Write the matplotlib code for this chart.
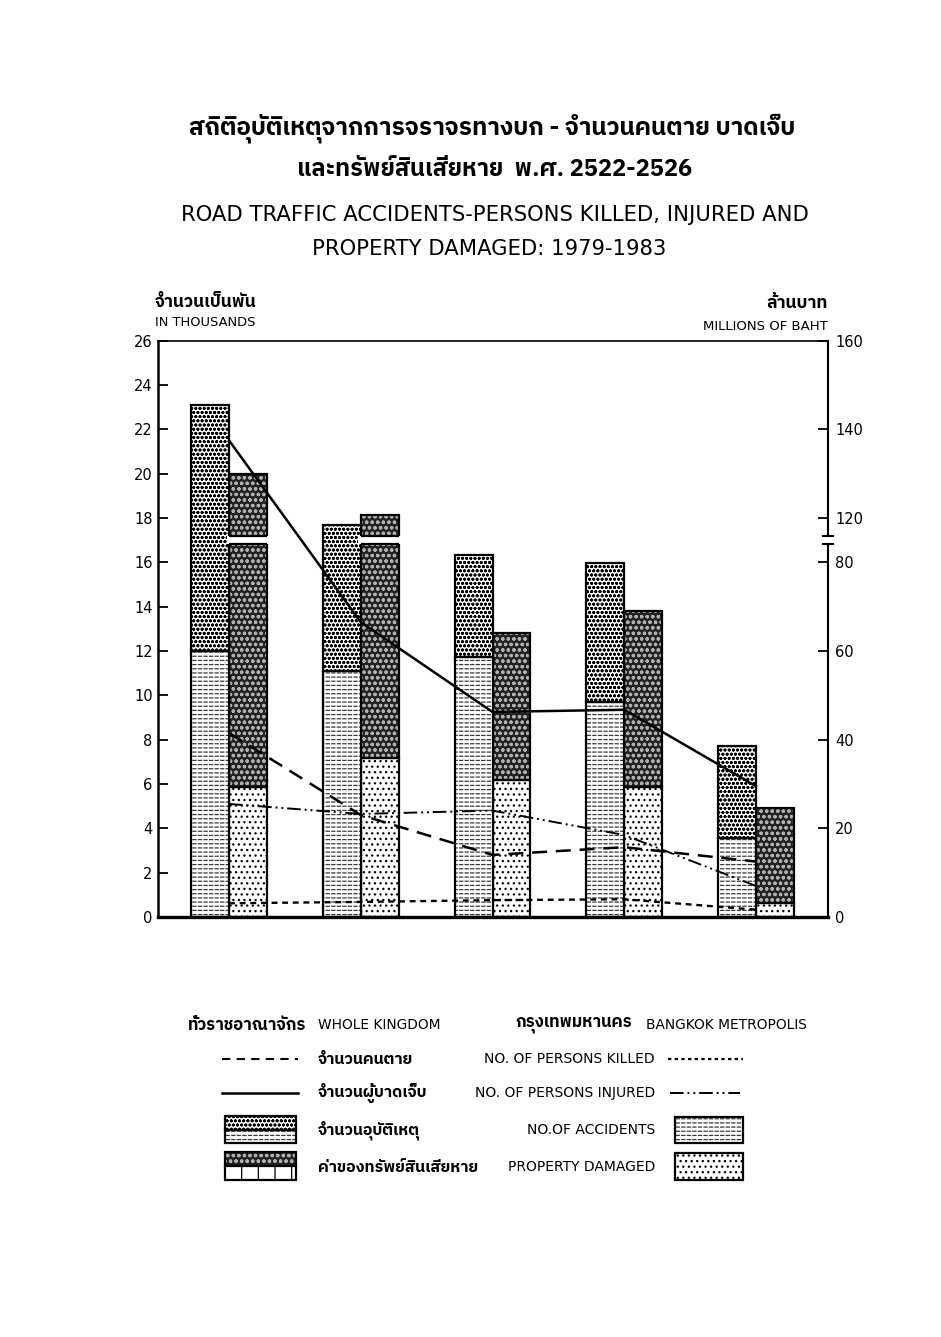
import numpy as np
import matplotlib
matplotlib.use("Agg")
import matplotlib.pyplot as plt
from matplotlib import font_manager, ft2font
from matplotlib.patches import Rectangle

# ---------------- data ----------------
years_be = ["2522", "2523", "2524", "2525", "2526"]
years_ce = ["1979", "1980", "1981", "1982", "1983"]
# thousands
acc_kingdom = [23.1, 17.7, 16.35, 15.95, 7.7]
acc_bangkok = [12.0, 11.1, 11.75, 9.7, 3.55]
killed_kingdom = [8.3, 4.6, 2.8, 3.15, 2.5]
injured_kingdom = [21.5, 13.3, 9.25, 9.35, 5.9]
killed_bangkok = [0.62, 0.68, 0.76, 0.8, 0.33]
injured_bangkok = [5.1, 4.65, 4.8, 3.7, 1.4]
# millions of baht
prop_kingdom = [130.0, 120.7, 64.0, 69.0, 24.5]
prop_bangkok = [29.4, 35.8, 30.9, 29.4, 3.1]

left_ticks = list(range(0, 27, 2))
right_ticks = [0, 20, 40, 60, 80, 120, 140, 160]

# ---------------- fonts ----------------
def find_thai_font():
    cands = []
    seen = set()
    for f in font_manager.fontManager.ttflist:
        if f.fname in seen:
            continue
        seen.add(f.fname)
        try:
            cm = ft2font.FT2Font(f.fname).get_charmap()
        except Exception:
            continue
        if 0x0E01 in cm and 0x0E33 in cm:
            cands.append(f.name)
    if not cands:
        return None
    cands.sort(key=lambda n: (0 if "Thai" in n else 1, n))
    return cands[0]

THAI = find_thai_font()
BASE = "DejaVu Sans"
TH_FAM = [THAI, BASE] if THAI else [BASE]
plt.rcParams["font.family"] = [BASE]
plt.rcParams["hatch.linewidth"] = 0.9

W, H = 941, 1337
fig = plt.figure(figsize=(W / 100, H / 100), dpi=100)
fig.patch.set_facecolor("white")

# patterns: (face, [(hatch, colour), ...])
PAT_ACC_K = ("white", [("oooo", "black")])
PAT_ACC_B = ("white", [("----", "#3a3a3a"), ("|||", "white")])
PAT_PRO_K = ("#222222", [("ooo", "#b0b0b0")])
PAT_PRO_B = ("white", [("...", "black")])

# ---------------- axes ----------------
ax_l, ax_r, ax_b, ax_t = 158.3, 828.3, 917.0, 340.7
ax2 = fig.add_axes([ax_l / W, 1 - ax_b / H, (ax_r - ax_l) / W, (ax_b - ax_t) / H])
ax = ax2.twinx()  # ax on top (lines and accident bars)
ax.yaxis.tick_left()
ax.yaxis.set_label_position("left")
ax2.yaxis.tick_right()

LO, HI = 16.85, 17.2  # axis-break band (left units)

def fwd(v):
    v = np.asarray(v, dtype=float)
    return np.where(v <= 80, v / 5.0, np.where(v <= 120, 16 + (v - 80) / 20.0, v / 5.0 - 6))

def inv(u):
    u = np.asarray(u, dtype=float)
    return np.where(u <= 16, u * 5.0, np.where(u <= 18, 80 + (u - 16) * 20.0, (u + 6) * 5.0))

ax2.set_yscale("function", functions=(fwd, inv))
ax2.set_ylim(0, 160)
ax.set_ylim(0, 26)
ax.set_xlim(-0.537, 4.549)

x = np.arange(len(years_be))
w = 0.288

def hbar(axis, xpos, height, bottom, pat, z=2):
    face, layers = pat
    axis.bar(xpos, height, w, bottom=bottom, color=face, edgecolor="none",
             linewidth=0, zorder=z)
    for k, (h, c) in enumerate(layers):
        axis.bar(xpos, height, w, bottom=bottom, facecolor="none", edgecolor=c,
                 linewidth=0, hatch=h, zorder=z + 0.1 * (k + 1))
    axis.bar(xpos, height, w, bottom=bottom, facecolor="none", edgecolor="black",
             linewidth=1.6, zorder=z + 1)

acc_k = np.array(acc_kingdom)
acc_b = np.array(acc_bangkok)
pk = np.array(prop_kingdom)
pb = np.array(prop_bangkok)

# accidents (left bar of each pair)
hbar(ax, x - w / 2, acc_b, 0, PAT_ACC_B)
hbar(ax, x - w / 2, acc_k - acc_b, acc_b, PAT_ACC_K)
# property damaged (right bar of each pair)
hbar(ax2, x + w / 2, pb, 0, PAT_PRO_B)
hbar(ax2, x + w / 2, pk - pb, pb, PAT_PRO_K)

# break in bars that cross the axis break
brk = fwd(pk) > HI
ax.bar((x + w / 2)[brk], HI - LO, w * 1.12, bottom=LO, color="white",
       edgecolor="none", zorder=4)
ax.hlines([LO] * int(brk.sum()), x[brk], (x + w)[brk], color="black", lw=1.6, zorder=4.5)
ax.hlines([HI] * int(brk.sum()), x[brk], (x + w)[brk], color="black", lw=1.6, zorder=4.5)

# lines
ax.plot(x, killed_kingdom, color="black", lw=1.8, ls=(0, (6, 3.5)), zorder=6)
ax.plot(x, injured_kingdom, color="black", lw=1.8, ls="-", zorder=6)
ax.plot(x, killed_bangkok, color="black", lw=1.7, ls=(0, (2.5, 2)), zorder=6)
ax.plot(x, injured_bangkok, color="black", lw=1.4, ls=(0, (7, 2, 1, 2, 1, 2)), zorder=6)

# spines
for s in ax2.spines.values():
    s.set_visible(False)
ax.spines["right"].set_visible(False)
ax.spines["top"].set_linewidth(1.2)
ax.spines["left"].set_linewidth(1.8)
ax.spines["bottom"].set_linewidth(2.4)
ax.plot([1, 1], [0, LO / 26], transform=ax.transAxes, color="black", lw=1.5,
        clip_on=False, zorder=7)
ax.plot([1, 1], [HI / 26, 1], transform=ax.transAxes, color="black", lw=1.5,
        clip_on=False, zorder=7)
dx = 5 / (ax_r - ax_l)
for yy in (LO / 26, HI / 26):
    ax.plot([1 - dx, 1 + dx], [yy, yy], transform=ax.transAxes, color="black",
            lw=1.5, clip_on=False, zorder=7)

# ticks
ax.set_yticks(left_ticks)
ax.set_yticklabels([str(t) for t in left_ticks])
ax.tick_params(axis="y", direction="in", length=7, width=1.3, labelsize=10.5, pad=4)
ax2.set_yticks(right_ticks)
ax2.set_yticklabels([str(t) for t in right_ticks])
ax2.yaxis.set_minor_locator(matplotlib.ticker.NullLocator())
ax2.tick_params(axis="y", direction="in", length=7, width=1.3, labelsize=10.5, pad=5)
ax.set_xticks(x)
ax.set_xticklabels([f"{a}\n({b})" for a, b in zip(years_be, years_ce)], linespacing=1.1)
ax.tick_params(axis="x", length=0, pad=5, labelsize=10.5)
ax2.tick_params(axis="x", length=0, labelbottom=False)

# ---------------- overlay for texts & legend ----------------
lax = fig.add_axes([0, 0, 1, 1], zorder=10)
lax.set_xlim(0, W)
lax.set_ylim(H, 0)
lax.axis("off")

def txt(px, py, s, size, ha="left", thai=False, weight="normal"):
    lax.text(px, py, s, fontsize=size, ha=ha, va="center",
             family=TH_FAM if thai else [BASE], weight=weight)

# titles
txt(492, 128, "สถิติอุบัติเหตุจากการจราจรทางบก - จำนวนคนตาย บาดเจ็บ", 17.5, "center", True, "bold")
txt(495, 170, "และทรัพย์สินเสียหาย  พ.ศ. 2522-2526", 17, "center", True, "bold")
txt(495, 215, "ROAD TRAFFIC ACCIDENTS-PERSONS KILLED, INJURED AND", 15.2, "center")
txt(489, 249, "PROPERTY DAMAGED: 1979-1983", 15.2, "center")

# axis labels
txt(155, 302, "จำนวนเป็นพัน", 12.5, "left", True, "bold")
txt(155, 323, "IN THOUSANDS", 9.4, "left")
txt(828, 303, "ล้านบาท", 12.5, "right", True, "bold")
txt(828, 327, "MILLIONS OF BAHT", 9.5, "right")

# legend header
txt(188, 1025, "ทั่วราชอาณาจักร", 12, "left", True, "bold")
txt(318, 1025, "WHOLE KINGDOM", 9.9, "left")
txt(515, 1025, "กรุงเทพมหานคร", 12, "left", True, "bold")
txt(807, 1025, "BANGKOK METROPOLIS", 9.9, "right")

rows = [1059, 1093, 1130, 1167]
th_labels = ["จำนวนคนตาย", "จำนวนผู้บาดเจ็บ", "จำนวนอุบัติเหตุ", "ค่าของทรัพย์สินเสียหาย"]
en_labels = ["NO. OF PERSONS KILLED", "NO. OF PERSONS INJURED", "NO.OF ACCIDENTS", "PROPERTY DAMAGED"]
for yy, th, en in zip(rows, th_labels, en_labels):
    txt(318, yy, th, 11.5, "left", True, "bold")
    txt(655, yy, en, 10, "right")

# legend line keys
lax.plot([222, 298], [rows[0]] * 2, color="black", lw=1.5, ls=(0, (4, 3)))
lax.plot([222, 298], [rows[1]] * 2, color="black", lw=1.8)
lax.plot([668, 743], [rows[0]] * 2, color="black", lw=1.6, ls=(0, (1.5, 1.5)))
lax.plot([670, 740], [rows[1]] * 2, color="black", lw=1.4, ls=(0, (7, 2, 1, 2, 1, 2)))

def key_box(x0, y0, x1, y1, pat):
    face, layers = pat
    lax.add_patch(Rectangle((x0, y0), x1 - x0, y1 - y0, facecolor=face, edgecolor="none", lw=0))
    for h, c in layers:
        lax.add_patch(Rectangle((x0, y0), x1 - x0, y1 - y0, facecolor="none",
                                edgecolor=c, lw=0, hatch=h))
    lax.add_patch(Rectangle((x0, y0), x1 - x0, y1 - y0, facecolor="none",
                            edgecolor="black", lw=1.6))

# accidents keys
key_box(225, 1116, 296, 1129.5, PAT_ACC_K)
key_box(225, 1129.5, 296, 1143, PAT_ACC_B)
key_box(675, 1117, 743, 1143, PAT_ACC_B)
# property keys
key_box(225, 1152, 296, 1166, PAT_PRO_K)
key_box(225, 1166, 296, 1180, ("white", [("|", "black")]))
key_box(675, 1153, 743, 1180, PAT_PRO_B)

fig.savefig("out.png", dpi=100, facecolor="white")
